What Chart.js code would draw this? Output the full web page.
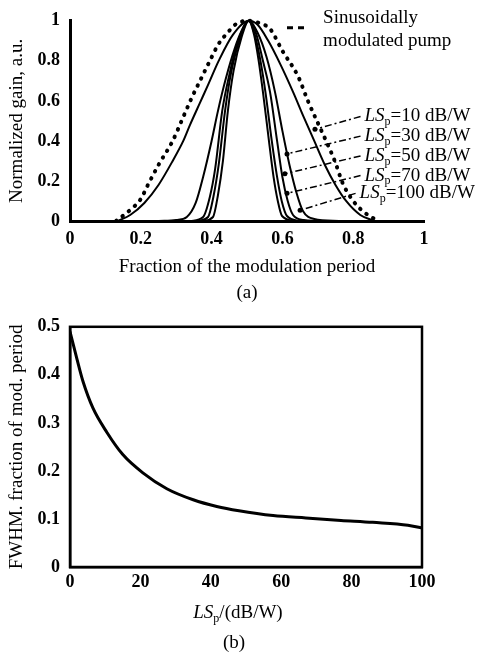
<!DOCTYPE html>
<html>
<head>
<meta charset="utf-8">
<script src="https://cdn.jsdelivr.net/npm/chart.js@4.4.0/dist/chart.umd.min.js"></script>
<style>
  html, body { margin: 0; padding: 0; background: #fff; }
  #wrap { position: relative; width: 480px; height: 656px; }
  #boxA { position: absolute; left: 0; top: 0; width: 480px; height: 306px; }
  #boxB { position: absolute; left: 0; top: 306px; width: 480px; height: 350px; }
</style>
</head>
<body>
<div id="wrap">
  <div id="boxA"><canvas id="gainChart"></canvas></div>
  <div id="boxB"><canvas id="fwhmChart"></canvas></div>
</div>
<script>
// (a) normalized gain vs fraction of the modulation period
const pumpX = [0.13, 0.17, 0.20, 0.22, 0.25, 0.29, 0.32, 0.345, 0.37, 0.395, 0.42, 0.445, 0.47, 0.505, 0.54, 0.565, 0.60, 0.645, 0.672, 0.70, 0.726, 0.75, 0.77, 0.80, 0.83, 0.87];
const pumpY = [0, 0.055, 0.11, 0.18, 0.28, 0.40, 0.52, 0.62, 0.71, 0.80, 0.885, 0.94, 0.985, 1, 0.985, 0.96, 0.85, 0.72, 0.60, 0.49, 0.39, 0.29, 0.19, 0.10, 0.045, 0];

const ls10X = [0.135, 0.17, 0.21, 0.25, 0.29, 0.32, 0.339, 0.367, 0.39, 0.42, 0.46, 0.505, 0.53, 0.56, 0.595, 0.63, 0.66, 0.69, 0.72, 0.75, 0.78, 0.82, 0.86];
const ls10Y = [0, 0.03, 0.09, 0.18, 0.30, 0.40, 0.48, 0.59, 0.68, 0.80, 0.93, 1, 0.98, 0.90, 0.78, 0.645, 0.52, 0.40, 0.28, 0.18, 0.10, 0.03, 0];

const ls30X = [0.25, 0.30, 0.33, 0.355, 0.376, 0.40, 0.418, 0.44, 0.465, 0.485, 0.505, 0.53, 0.555, 0.579, 0.60, 0.62, 0.64, 0.658, 0.69, 0.76];
const ls30Y = [0, 0.005, 0.02, 0.09, 0.22, 0.40, 0.55, 0.71, 0.86, 0.95, 1, 0.94, 0.82, 0.645, 0.45, 0.28, 0.14, 0.05, 0.01, 0];

const ls50X = [0.34, 0.376, 0.395, 0.41, 0.43, 0.45, 0.475, 0.505, 0.525, 0.545, 0.565, 0.585, 0.60, 0.615, 0.63, 0.66, 0.70];
const ls50Y = [0, 0.02, 0.12, 0.26, 0.55, 0.73, 0.90, 1, 0.94, 0.80, 0.645, 0.40, 0.22, 0.10, 0.03, 0.005, 0];

const ls70X = [0.36, 0.39, 0.405, 0.42, 0.438, 0.455, 0.48, 0.505, 0.522, 0.538, 0.552, 0.57, 0.585, 0.598, 0.613, 0.65];
const ls70Y = [0, 0.02, 0.12, 0.28, 0.55, 0.74, 0.91, 1, 0.93, 0.80, 0.645, 0.40, 0.22, 0.10, 0.025, 0];

const ls100X = [0.375, 0.404, 0.418, 0.432, 0.446, 0.462, 0.485, 0.505, 0.52, 0.533, 0.545, 0.562, 0.575, 0.587, 0.599, 0.635];
const ls100Y = [0, 0.02, 0.13, 0.30, 0.55, 0.75, 0.92, 1, 0.93, 0.80, 0.645, 0.40, 0.22, 0.10, 0.025, 0];

const lsNames = ['10', '30', '50', '70', '100'];

// (b) FWHM vs LSp
const fwhmLS = [0, 2, 3.7, 6.5, 10.5, 15, 20.7, 27.5, 35, 41.7, 48, 57.7, 67, 77, 86, 96, 100];
const fwhmVal = [0.49, 0.432, 0.386, 0.331, 0.280, 0.234, 0.196, 0.163, 0.140, 0.126, 0.117, 0.107, 0.102, 0.097, 0.093, 0.087, 0.081];

const SERIF = '"Liberation Serif", "DejaVu Serif", serif';
Chart.defaults.font.family = SERIF;
Chart.defaults.color = '#000';

const TICK_FONT = { size: 18, weight: 'bold' };
const TITLE_SIZE = 19;
const NOTE_SIZE = 19;

function zip(xs, ys) {
    return xs.map((x, i) => ({ x: x, y: ys[i] }));
}

function plainNumber(v) {
    return String(+v.toFixed(2));
}

// draws "LSp" with italic LS and a small subscript p, then the tail text
function drawLS(ctx, x, y, tail, size) {
    ctx.save();
    ctx.textBaseline = 'middle';
    ctx.textAlign = 'left';
    ctx.fillStyle = '#000';
    ctx.font = 'italic ' + size + 'px ' + SERIF;
    ctx.fillText('LS', x, y);
    let w = ctx.measureText('LS').width;
    ctx.font = Math.round(size * 0.65) + 'px ' + SERIF;
    ctx.fillText('p', x + w, y + size * 0.3);
    w += ctx.measureText('p').width;
    ctx.font = size + 'px ' + SERIF;
    ctx.fillText(tail, x + w, y);
    ctx.restore();
}

function widthLS(ctx, tail, size) {
    ctx.save();
    ctx.font = 'italic ' + size + 'px ' + SERIF;
    let w = ctx.measureText('LS').width;
    ctx.font = Math.round(size * 0.65) + 'px ' + SERIF;
    w += ctx.measureText('p').width;
    ctx.font = size + 'px ' + SERIF;
    w += ctx.measureText(tail).width;
    ctx.restore();
    return w;
}

// annotation placement for chart (a), in data units
const labelX = [0.832, 0.832, 0.832, 0.832, 0.818];
const labelY = [0.522, 0.424, 0.325, 0.227, 0.138];
const leaderEndX = [0.692, 0.613, 0.607, 0.613, 0.65];
const leaderEndY = [0.458, 0.335, 0.236, 0.138, 0.054];

const gainNotes = {
    id: 'gainNotes',
    afterDatasetsDraw(chart) {
        const ctx = chart.ctx;
        const sx = chart.scales.x, sy = chart.scales.y;
        ctx.save();
        // legend sample for the pump curve
        ctx.strokeStyle = '#000';
        ctx.lineWidth = 3;
        ctx.setLineDash([6, 5]);
        ctx.beginPath();
        ctx.moveTo(sx.getPixelForValue(0.613), sy.getPixelForValue(0.965));
        ctx.lineTo(sx.getPixelForValue(0.668), sy.getPixelForValue(0.965));
        ctx.stroke();
        ctx.setLineDash([]);
        ctx.fillStyle = '#000';
        ctx.font = NOTE_SIZE + 'px ' + SERIF;
        ctx.textBaseline = 'middle';
        ctx.textAlign = 'left';
        ctx.fillText('Sinusoidally', sx.getPixelForValue(0.715), sy.getPixelForValue(1.015));
        ctx.fillText('modulated pump', sx.getPixelForValue(0.715), sy.getPixelForValue(0.90));

        // LSp labels with leader lines
        lsNames.forEach((n, i) => {
            const tx = sx.getPixelForValue(labelX[i]);
            const ty = sy.getPixelForValue(labelY[i]);
            const ex = sx.getPixelForValue(leaderEndX[i]);
            const ey = sy.getPixelForValue(leaderEndY[i]);
            ctx.lineWidth = 1.5;
            ctx.setLineDash([7, 3, 2, 3]);
            ctx.beginPath();
            ctx.moveTo(tx - 4, ty);
            ctx.lineTo(ex, ey);
            ctx.stroke();
            ctx.setLineDash([]);
            ctx.beginPath();
            ctx.arc(ex, ey, 2.5, 0, Math.PI * 2);
            ctx.fill();
            drawLS(ctx, tx, ty, '=' + n + ' dB/W', NOTE_SIZE);
        });
        ctx.restore();
    }
};

const fwhmNotes = {
    id: 'fwhmNotes',
    afterDraw(chart) {
        const ctx = chart.ctx;
        const a = chart.chartArea;
        ctx.save();
        ctx.strokeStyle = '#000';
        ctx.lineWidth = 2.5;
        ctx.strokeRect(a.left, a.top, a.right - a.left, a.bottom - a.top);
        const cx = (a.left + a.right) / 2 - 8;
        const w = widthLS(ctx, '/(dB/W)', TITLE_SIZE);
        drawLS(ctx, cx - w / 2, a.bottom + 46, '/(dB/W)', TITLE_SIZE);
        ctx.font = TITLE_SIZE + 'px ' + SERIF;
        ctx.textAlign = 'center';
        ctx.textBaseline = 'middle';
        ctx.fillStyle = '#000';
        ctx.fillText('(b)', cx - 4, a.bottom + 76);
        ctx.restore();
    }
};

const gainSeries = [
    { label: 'Sinusoidally modulated pump', x: pumpX, y: pumpY, dotted: true },
    { label: 'LSp=10 dB/W', x: ls10X, y: ls10Y },
    { label: 'LSp=30 dB/W', x: ls30X, y: ls30Y },
    { label: 'LSp=50 dB/W', x: ls50X, y: ls50Y },
    { label: 'LSp=70 dB/W', x: ls70X, y: ls70Y },
    { label: 'LSp=100 dB/W', x: ls100X, y: ls100Y }
];

new Chart(document.getElementById('gainChart'), {
    type: 'line',
    data: {
        datasets: gainSeries.map(s => ({
            label: s.label,
            data: zip(s.x, s.y),
            borderColor: '#000',
            borderWidth: s.dotted ? 4 : 2,
            borderDash: s.dotted ? [0.5, 7.5] : [],
            borderCapStyle: 'round',
            cubicInterpolationMode: 'monotone',
            pointRadius: 0,
            clip: false
        }))
    },
    options: {
        responsive: true,
        maintainAspectRatio: false,
        animation: false,
        layout: { autoPadding: false, padding: { left: 0, right: 56, top: 18, bottom: 0 } },
        plugins: { legend: { display: false }, tooltip: { enabled: false } },
        scales: {
            x: {
                type: 'linear',
                min: 0,
                max: 1,
                grid: { display: false, drawTicks: false },
                border: { color: '#000', width: 3 },
                ticks: { stepSize: 0.2, padding: 8, font: TICK_FONT, color: '#000', callback: plainNumber },
                title: {
                    display: true,
                    text: ['Fraction of the modulation period', '(a)'],
                    font: { size: TITLE_SIZE, lineHeight: 26 / TITLE_SIZE },
                    padding: { top: 0, bottom: 0 },
                    color: '#000'
                },
                afterFit: s => { s.height = 85; }
            },
            y: {
                type: 'linear',
                min: 0,
                max: 1,
                grid: { display: false, drawTicks: false },
                border: { color: '#000', width: 3 },
                ticks: { stepSize: 0.2, padding: 10, font: TICK_FONT, color: '#000', callback: plainNumber },
                title: {
                    display: true,
                    text: 'Normalized gain, a.u.',
                    font: { size: TITLE_SIZE },
                    padding: { top: 6, bottom: 0 },
                    color: '#000'
                },
                afterFit: s => { s.width = 70; }
            }
        }
    },
    plugins: [gainNotes]
});

new Chart(document.getElementById('fwhmChart'), {
    type: 'line',
    data: {
        datasets: [{
            label: 'FWHM',
            data: zip(fwhmLS, fwhmVal),
            borderColor: '#000',
            borderWidth: 3,
            cubicInterpolationMode: 'monotone',
            pointRadius: 0
        }]
    },
    options: {
        responsive: true,
        maintainAspectRatio: false,
        animation: false,
        layout: { autoPadding: false, padding: { left: 0, right: 58, top: 19, bottom: 0 } },
        plugins: { legend: { display: false }, tooltip: { enabled: false } },
        scales: {
            x: {
                type: 'linear',
                min: 0,
                max: 100,
                grid: { display: false, drawTicks: false },
                border: { color: '#000', width: 2.5 },
                ticks: { stepSize: 20, padding: 5, font: TICK_FONT, color: '#000', callback: plainNumber },
                afterFit: s => { s.height = 89; }
            },
            y: {
                type: 'linear',
                min: 0,
                max: 0.5,
                grid: { display: false, drawTicks: false },
                border: { color: '#000', width: 2.5 },
                ticks: { stepSize: 0.1, padding: 10, font: TICK_FONT, color: '#000', callback: plainNumber },
                title: {
                    display: true,
                    text: 'FWHM. fraction of mod. period',
                    font: { size: TITLE_SIZE },
                    padding: { top: 6, bottom: 0 },
                    color: '#000'
                },
                afterFit: s => { s.width = 70; }
            }
        }
    },
    plugins: [fwhmNotes]
});
</script>
</body>
</html>
